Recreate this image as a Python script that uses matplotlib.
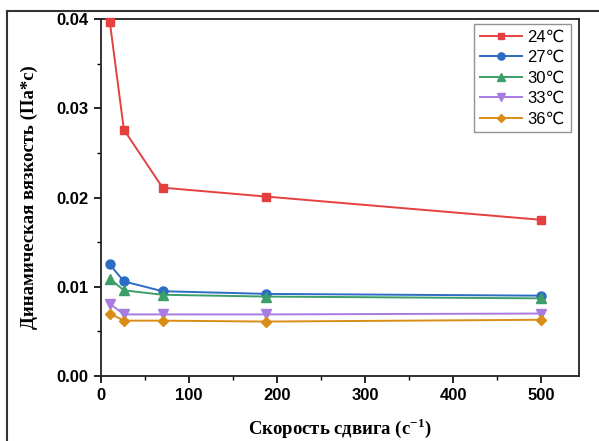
import matplotlib
matplotlib.use("Agg")
from matplotlib import pyplot as plt
from matplotlib.lines import Line2D
from matplotlib.ticker import MultipleLocator

# shear rate, 1/s
shear_rate = [10, 26, 70, 188, 500]

# dynamic viscosity, Pa*s
visc_24 = [0.0397, 0.0276, 0.0211, 0.0201, 0.0175]
visc_27 = [0.0125, 0.0106, 0.0095, 0.0092, 0.0090]
visc_30 = [0.0109, 0.0096, 0.0091, 0.0089, 0.0087]
visc_33 = [0.0081, 0.0069, 0.0069, 0.0069, 0.0070]
visc_36 = [0.0070, 0.0062, 0.0062, 0.0061, 0.0063]

labels = ["24℃", "27℃", "30℃", "33℃", "36℃"]
colors = ["#e5403f", "#2c6cc4", "#3c9f68", "#a77be0", "#d98d16"]
markers = ["s", "o", "^", "v", "D"]
sizes = [6, 6.5, 6.5, 6.5, 5.5]

plt.rcParams["mathtext.fontset"] = "custom"
plt.rcParams["mathtext.rm"] = "Liberation Serif:bold"
plt.rcParams["mathtext.bf"] = "Liberation Serif:bold"

fig = plt.figure(figsize=(5.99, 4.41), dpi=100)
ax = fig.add_axes([0.1686, 0.1474, 0.7980, 0.8095])

series = [visc_24, visc_27, visc_30, visc_33, visc_36]
for y, lab, c, m, ms in zip(series, labels, colors, markers, sizes):
    ax.plot(shear_rate, y, color=c, marker=m, markersize=ms, linewidth=1.4,
            label=lab, clip_on=False, zorder=3)

ax.set_xlim(0, 543)
ax.set_ylim(0, 0.04)
ax.xaxis.set_major_locator(MultipleLocator(100))
ax.xaxis.set_minor_locator(MultipleLocator(50))
ax.yaxis.set_major_locator(MultipleLocator(0.01))
ax.yaxis.set_minor_locator(MultipleLocator(0.005))
ax.yaxis.set_major_formatter(plt.FuncFormatter(lambda v, p: f"{v:.2f}"))

for s in ax.spines.values():
    s.set_linewidth(1.3)
    s.set_color("#222222")
ax.tick_params(which="major", direction="out", length=5, width=1.2, pad=4)
ax.tick_params(which="minor", direction="out", length=3, width=1.0)
for t in ax.get_xticklabels() + ax.get_yticklabels():
    t.set_fontfamily(["Liberation Sans", "DejaVu Sans"])
    t.set_fontweight("bold")
    t.set_fontsize(12)

ax.set_xlabel("Скорость сдвига (с$^{\\mathregular{-1}}$)", family="Liberation Serif",
              fontweight="bold", fontstyle="normal", fontsize=13.5, labelpad=9)
ax.set_ylabel("Динамическая вязкость (Па*с)", family="Liberation Serif",
              fontweight="bold", fontstyle="normal", fontsize=13.5, labelpad=13)

leg = ax.legend(loc="upper right", bbox_to_anchor=(1.0, 1.01), frameon=True,
                fancybox=False, edgecolor="#777777", handlelength=2.5,
                handletextpad=0.35, borderpad=0.35, labelspacing=0.33,
                markerscale=0.8,
                prop={"family": ["Liberation Sans", "DejaVu Sans"], "size": 12})
leg.get_frame().set_linewidth(1.0)

# outer frame, only top and left edges fall inside the canvas
fig.add_artist(Line2D([0.012, 0.012], [0.0, 0.975], color="#333333", lw=1.5,
                      transform=fig.transFigure))
fig.add_artist(Line2D([0.012, 1.0], [0.975, 0.975], color="#333333", lw=1.5,
                      transform=fig.transFigure))

fig.savefig("out.png", dpi=100)
